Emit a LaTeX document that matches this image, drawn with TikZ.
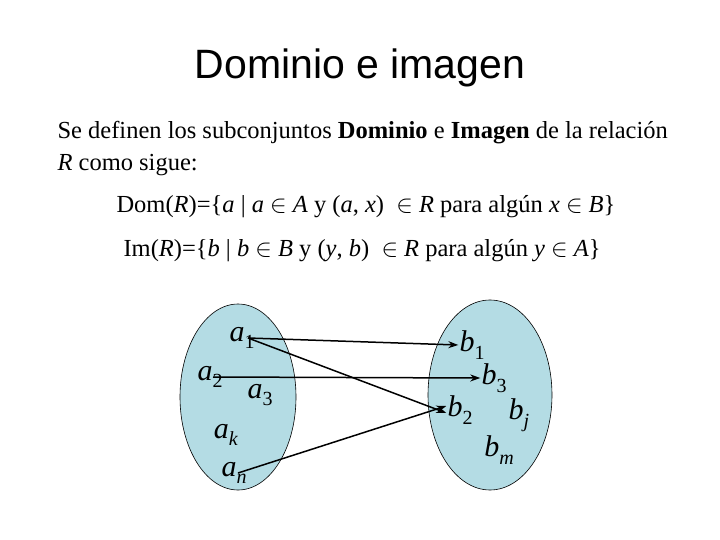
\documentclass[tikz,border=0pt]{standalone}
\usepackage{fontspec}
\setmainfont{Liberation Serif}
\newfontfamily\titlefont{Liberation Sans}
\usetikzlibrary{arrows.meta,positioning}
\definecolor{setblue}{RGB}{180,220,228}
\newcommand{\elt}[2]{\textit{#1}\raisebox{-0.55ex}{\fontsize{20}{20}\selectfont #2}}
\begin{document}
\begin{tikzpicture}[x=1pt,y=-1pt,
  setfill/.style={draw=black,fill=setblue,line width=0.6pt},
  member/.style={font=\fontsize{30}{30}\selectfont,inner sep=1pt},
  relarrow/.style={-{Stealth[length=10pt,width=7pt]},line width=1.5pt}]
\useasboundingbox (0,0) rectangle (720,540);
\node[font=\titlefont\fontsize{41}{41}\selectfont] (title) at (360,68) {Dominio e imagen};
\node[anchor=west,font=\fontsize{24.5}{32}\selectfont,align=left] (intro) at (54,149)
  {Se definen los subconjuntos \textbf{Dominio} e \textbf{Imagen} de la relación\\ \textit{R} como sigue:};
\node[anchor=west,font=\fontsize{24.5}{24.5}\selectfont] (dom) at (113,207)
  {Dom(\textit{R})=\{\textit{a} | \textit{a} $\in$ \textit{A} y (\textit{a}, \textit{x}) \ $\in$ \textit{R} para algún \textit{x} $\in$ \textit{B}\}};
\node[anchor=west,font=\fontsize{24.5}{24.5}\selectfont] (im) at (120,251)
  {Im(\textit{R})=\{\textit{b} | \textit{b} $\in$ \textit{B} y (\textit{y}, \textit{b}) \ $\in$ \textit{R} para algún \textit{y} $\in$ \textit{A}\}};
% the two sets
\draw[setfill] (238,397) ellipse (58 and 93);
\draw[setfill] (490,395) ellipse (62 and 95);
% elements of A
\node[member] (a1) at (242,338) {\elt{a}{1}};
\node[member] (a2) at (210,377) {\elt{a}{2}};
\node[member] (a3) at (260,395) {\elt{a}{3}};
\node[member] (ak) at (226,435) {\elt{a}{\textit{k}}};
\node[member] (an) at (234,473) {\elt{a}{\textit{n}}};
% elements of B
\node[member] (b1) at (472,345) {\elt{b}{1}};
\node[member] (b3) at (494,378) {\elt{b}{3}};
\node[member] (b2) at (460,410) {\elt{b}{2}};
\node[member] (bj) at (519,415) {\elt{b}{\textit{j}}};
\node[member] (bm) at (499,450) {\elt{b}{\textit{m}}};
% the relation
\draw[relarrow] ([xshift=6pt]a1.center) -- (b1.west);
\draw[relarrow] ([xshift=6pt]a1.center) -- ([yshift=-3pt]b2.west);
\draw[relarrow] ([xshift=3pt]a2.center) -- (b3.west);
\draw[relarrow] ([xshift=4pt]an.center) -- ([yshift=4pt]b2.west);
\end{tikzpicture}
\end{document}
